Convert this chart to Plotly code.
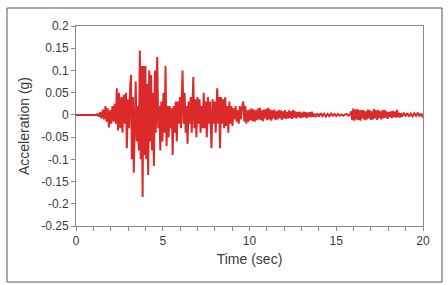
import plotly.graph_objects as go

time_s = [0.0, 1.2, 1.25, 1.32, 1.40, 1.47, 1.55, 1.62, 1.70, 1.76, 1.83, 1.90, 1.97, 2.03, 2.10, 2.17, 2.23, 2.30,
          2.35, 2.42, 2.48, 2.55, 2.62, 2.68, 2.75, 2.82, 2.88, 2.93, 3.00, 3.06, 3.12, 3.17, 3.22, 3.28, 3.33, 3.38,
          3.44, 3.50, 3.56, 3.62, 3.68, 3.73, 3.78, 3.84, 3.89, 3.95, 4.00, 4.05, 4.10, 4.16, 4.22, 4.28, 4.33, 4.38,
          4.44, 4.49, 4.55, 4.60, 4.68, 4.74, 4.80, 4.86, 4.92, 4.98, 5.04, 5.10, 5.16, 5.22, 5.28, 5.34, 5.40, 5.46,
          5.52, 5.57, 5.63, 5.69, 5.75, 5.81, 5.87, 5.93, 5.99, 6.05, 6.10, 6.14, 6.20, 6.26, 6.32, 6.38, 6.43, 6.49,
          6.55, 6.61, 6.67, 6.76, 6.82, 6.88, 6.94, 7.00, 7.06, 7.12, 7.18, 7.24, 7.30, 7.36, 7.42, 7.48, 7.54, 7.60,
          7.66, 7.72, 7.81, 7.87, 7.93, 7.99, 8.05, 8.14, 8.20, 8.25, 8.30, 8.36, 8.42, 8.48, 8.54, 8.60, 8.66, 8.72,
          8.78, 8.84, 8.90, 8.96, 9.02, 9.08, 9.14, 9.20, 9.26, 9.32, 9.38, 9.44, 9.50, 9.56, 9.64, 9.70, 9.76, 9.82,
          9.88, 9.94, 10.00, 10.06, 10.12, 10.18, 10.24, 10.30, 10.36, 10.42, 10.48, 10.54, 10.60, 10.66, 10.72, 10.78,
          10.84, 10.90, 10.96, 11.02, 11.08, 11.14, 11.20, 11.26, 11.32, 11.38, 11.44, 11.50, 11.56, 11.62, 11.68,
          11.74, 11.80, 11.86, 11.92, 11.98, 12.04, 12.10, 12.16, 12.22, 12.28, 12.34, 12.40, 12.46, 12.52, 12.58,
          12.64, 12.70, 12.76, 12.82, 12.88, 12.94, 13.00, 13.06, 13.12, 13.18, 13.24, 13.30, 13.36, 13.42, 13.48,
          13.54, 13.60, 13.66, 13.72, 13.80, 13.90, 14.00, 14.10, 14.20, 14.30, 14.40, 14.50, 14.60, 14.70, 14.80,
          14.90, 15.00, 15.10, 15.20, 15.30, 15.40, 15.50, 15.60, 15.70, 15.80, 15.86, 15.92, 15.98, 16.04, 16.10,
          16.16, 16.22, 16.28, 16.34, 16.40, 16.46, 16.52, 16.58, 16.64, 16.70, 16.76, 16.82, 16.88, 16.94, 17.00,
          17.06, 17.12, 17.18, 17.24, 17.30, 17.36, 17.42, 17.48, 17.54, 17.60, 17.66, 17.72, 17.78, 17.84, 17.90,
          17.96, 18.02, 18.08, 18.14, 18.20, 18.26, 18.32, 18.38, 18.44, 18.50, 18.56, 18.62, 18.68, 18.74, 18.80,
          18.90, 19.00, 19.10, 19.20, 19.30, 19.40, 19.50, 19.60, 19.70, 19.80, 19.90, 20.00]

accel_g = [0.0, 0.0, 0.003, -0.004, 0.006, -0.008, 0.012, -0.010, 0.020, -0.015, 0.015, -0.028, 0.010, -0.020, 0.020, -0.015, 0.025, -0.020,
           0.060, -0.035, 0.050, -0.030, 0.040, -0.040, 0.045, -0.020, 0.050, -0.075, 0.035, -0.030, 0.060, 0.090, -0.100, 0.040, -0.130, -0.050,
           0.075, -0.060, 0.020, -0.080, 0.145, -0.100, 0.110, -0.185, 0.110, -0.090, 0.110, -0.100, 0.070, -0.135, 0.100, -0.060, 0.090, -0.080,
           0.050, -0.115, 0.100, -0.040, 0.130, -0.030, 0.020, -0.080, 0.030, -0.060, 0.050, -0.040, 0.110, -0.070, 0.020, -0.050, 0.020, -0.030,
           0.015, -0.090, 0.020, -0.040, 0.030, -0.060, 0.030, -0.020, 0.040, -0.030, 0.060, 0.100, -0.020, 0.050, -0.040, 0.020, -0.065, 0.030,
           -0.020, 0.040, -0.040, 0.085, -0.030, 0.035, -0.050, 0.040, -0.020, 0.035, -0.040, 0.020, -0.030, 0.050, -0.030, 0.030, -0.050, 0.040,
           -0.020, 0.030, -0.075, 0.035, -0.020, 0.030, -0.040, 0.060, -0.020, 0.040, -0.075, 0.040, -0.020, 0.035, -0.030, 0.040, -0.025, 0.020,
           -0.040, 0.030, -0.020, 0.020, -0.025, 0.015, -0.010, 0.020, -0.015, 0.010, -0.020, 0.020, -0.010, 0.015, 0.030, -0.015, 0.020, -0.020,
           0.010, -0.015, 0.012, -0.012, 0.015, -0.014, 0.012, -0.015, 0.010, -0.012, 0.014, -0.010, 0.016, -0.012, 0.010, -0.014,
           0.012, -0.008, 0.013, -0.012, 0.016, -0.010, 0.012, -0.013, 0.010, -0.008, 0.012, -0.011, 0.008, -0.010, 0.011,
           -0.007, 0.010, -0.011, 0.008, -0.008, 0.011, -0.009, 0.007, -0.008, 0.010, -0.007, 0.008, -0.009, 0.011, -0.006,
           0.008, -0.008, 0.006, -0.005, 0.007, -0.007, 0.005, -0.006, 0.007, -0.005, 0.006, -0.007, 0.005, -0.004, 0.006,
           -0.005, 0.007, -0.004, 0.003, -0.005, 0.003, -0.004, 0.004, -0.003, 0.003, -0.004, 0.002, -0.003, 0.003, -0.002,
           0.002, -0.003, 0.002, -0.002, 0.001, -0.002, 0.001, 0.002, -0.002, 0.001, 0.008, -0.012, 0.014, -0.013, 0.012,
           -0.010, 0.013, -0.011, 0.010, -0.013, 0.011, -0.008, 0.010, -0.012, 0.008, -0.010, 0.012, -0.008, 0.010, -0.011,
           0.008, -0.010, 0.013, -0.008, 0.010, -0.011, 0.011, -0.007, 0.008, -0.010, 0.010, -0.007, 0.011, -0.006, 0.008,
           -0.009, 0.006, -0.005, 0.008, -0.007, 0.009, -0.005, 0.007, -0.006, 0.011, -0.005, 0.005, -0.006, 0.004, -0.004,
           0.005, -0.003, 0.004, -0.004, 0.003, -0.003, 0.004, -0.002, 0.005, -0.003, 0.003, -0.006]

y_tick_vals = [0.2, 0.15, 0.1, 0.05, 0.0, -0.05, -0.1, -0.15, -0.2, -0.25]
y_tick_text = ["0.2", "0.15", "0.1", "0.05", "0", "-0.05", "-0.1", "-0.15", "-0.2", "-0.25"]
x_tick_vals = [0, 5, 10, 15, 20]
x_tick_text = ["0", "5", "10", "15", "20"]

FONT = "Liberation Sans, Arial, sans-serif"
AXIS_GRAY = "#8a8a8a"
TEXT = "#3a3a3a"

fig = go.Figure()
fig.add_trace(go.Scatter(x=time_s, y=accel_g, mode="lines",
                         line=dict(color="#dc2a2a", width=2), showlegend=False))

fig.update_layout(
    width=448, height=285,
    margin=dict(l=76, r=25, t=26, b=59),
    paper_bgcolor="white", plot_bgcolor="white",
    font=dict(family=FONT, size=12, color=TEXT),
    xaxis=dict(range=[0, 20], tickvals=x_tick_vals, ticktext=x_tick_text,
               ticks="outside", ticklen=4, tickcolor=AXIS_GRAY,
               minor=dict(dtick=1, ticks="outside", ticklen=4, tickcolor=AXIS_GRAY),
               showline=True, linecolor=AXIS_GRAY, linewidth=1, mirror=True,
               showgrid=False, zeroline=False,
               title=dict(text="Time (sec)", standoff=6)),
    yaxis=dict(range=[-0.25, 0.2], tickvals=y_tick_vals, ticktext=y_tick_text,
               ticks="outside", ticklen=4, tickcolor=AXIS_GRAY,
               showline=True, linecolor=AXIS_GRAY, linewidth=1, mirror=True,
               showgrid=False, zeroline=False,
               title=dict(text="Acceleration (g)", standoff=8)),
    shapes=[dict(type="rect", xref="paper", yref="paper",
                 x0=(7 - 76) / 347, x1=(442 - 76) / 347,
                 y0=(226 - 282) / 200, y1=(226 - 8) / 200,
                 line=dict(color="#555555", width=1), fillcolor="rgba(0,0,0,0)")],
)

fig.write_html("out.html")
